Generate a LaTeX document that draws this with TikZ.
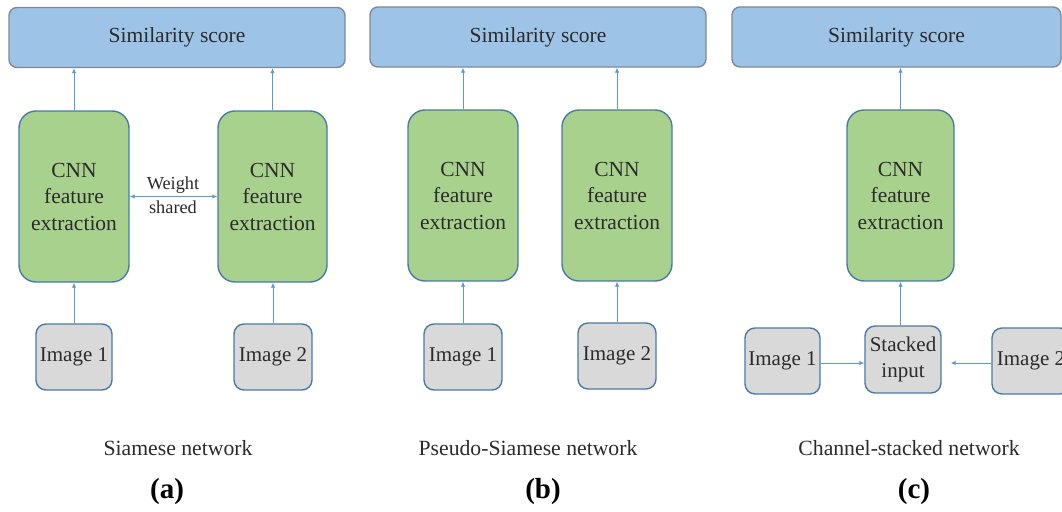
\documentclass[tikz,border=0pt]{standalone}
\usepackage{fontspec}
\setmainfont{Liberation Serif}
\usetikzlibrary{arrows.meta}
\definecolor{scorefill}{HTML}{9DC3E6}
\definecolor{scoreline}{HTML}{808A96}
\definecolor{cnnfill}{HTML}{A9D18E}
\definecolor{boxline}{HTML}{4A7AA8}
\definecolor{imgfill}{HTML}{D9D9D9}
\definecolor{flow}{HTML}{5B9BD5}
\definecolor{ink}{HTML}{2B2B2B}
\tikzset{
  x=1pt, y=-1pt,
  scorebox/.style={draw=scoreline, fill=scorefill, line width=1.4pt, rounded corners=8pt,
    minimum height=60pt, text=ink, font=\fontsize{21.5}{26}\selectfont},
  cnnbox/.style={draw=boxline, fill=cnnfill, line width=1.4pt, rounded corners=17pt,
    minimum width=110pt, minimum height=171pt, align=center, text=ink,
    font=\fontsize{21.5}{26.5}\selectfont},
  imgbox/.style={draw=boxline, fill=imgfill, line width=1.4pt, rounded corners=10pt,
    minimum width=77pt, minimum height=66pt, inner sep=1pt, align=center, text=ink,
    font=\fontsize{21}{25.5}\selectfont},
  flowarrow/.style={draw=flow, line width=0.9pt, -{Latex[length=5pt,width=4.5pt]}},
  caption/.style={text=ink, font=\fontsize{21.7}{26}\selectfont},
  tag/.style={text=black, font=\fontsize{29}{32}\selectfont\bfseries},
}
\begin{document}
\begin{tikzpicture}
\useasboundingbox (0,0) rectangle (1062,511);
\clip (0,0) rectangle (1062,511);
\fill[white] (0,0) rectangle (1062,511);

% (a) Siamese network
\node[scorebox, minimum width=336pt] (simA) at (177,37.5) {Similarity score};
\node[cnnbox] (cnnA1) at (74,196.5) {CNN\\feature\\extraction};
\node[cnnbox, minimum width=109pt] (cnnA2) at (272.5,196.5) {CNN\\feature\\extraction};
\node[imgbox, minimum width=76pt] (imgA1) at (74,357) {Image 1};
\node[imgbox, minimum width=78pt] (imgA2) at (273,357) {Image 2};
\draw[flowarrow] (cnnA1.north) -- (cnnA1.north |- simA.south);
\draw[flowarrow] (cnnA2.north) -- (cnnA2.north |- simA.south);
\draw[flowarrow] (imgA1.north) -- (imgA1.north |- cnnA1.south);
\draw[flowarrow] (imgA2.north) -- (imgA2.north |- cnnA2.south);
\draw[flowarrow, {Latex[length=5pt,width=4.5pt]}-{Latex[length=5pt,width=4.5pt]}] (cnnA1.east) -- (cnnA2.west);
\node[text=ink, align=center, font=\fontsize{18.3}{24}\selectfont] (wsA) at (173,195) {Weight\\shared};
\node[caption] (capA) at (178,448) {Siamese network};
\node[tag] (tagA) at (167,492) {(a)};

% (b) Pseudo-Siamese network
\node[scorebox, minimum width=336pt] (simB) at (538,37) {Similarity score};
\node[cnnbox] (cnnB1) at (463,195.5) {CNN\\feature\\extraction};
\node[cnnbox] (cnnB2) at (617,195.5) {CNN\\feature\\extraction};
\node[imgbox, minimum width=78pt] (imgB1) at (463,357) {Image 1};
\node[imgbox, minimum width=78pt] (imgB2) at (617,356) {Image 2};
\draw[flowarrow] (cnnB1.north) -- (cnnB1.north |- simB.south);
\draw[flowarrow] (cnnB2.north) -- (cnnB2.north |- simB.south);
\draw[flowarrow] (imgB1.north) -- (imgB1.north |- cnnB1.south);
\draw[flowarrow] (imgB2.north) -- (imgB2.north |- cnnB2.south);
\node[caption] (capB) at (528,448) {Pseudo-Siamese network};
\node[tag] (tagB) at (543,492) {(b)};

% (c) Channel-stacked network
\node[scorebox, minimum width=329pt] (simC) at (896.5,37) {Similarity score};
\node[cnnbox, minimum width=107pt] (cnnC) at (900.5,195.5) {CNN\\feature\\extraction};
\node[imgbox, minimum width=75pt] (imgC1) at (782.5,361) {Image 1};
\node[imgbox, minimum width=76pt, minimum height=67pt] (stackC) at (903,359.5) {Stacked\\input};
\node[imgbox, minimum width=78pt] (imgC2) at (1031,361) {Image 2};
\draw[flowarrow] (cnnC.north) -- (cnnC.north |- simC.south);
\draw[flowarrow] (cnnC.south |- stackC.north) -- (cnnC.south);
\draw[flowarrow] (imgC1.east |- 0,363) -- (stackC.west |- 0,363);
\draw[flowarrow, shorten >=9pt] (imgC2.west |- 0,363) -- (stackC.east |- 0,363);
\node[caption] (capC) at (909,448) {Channel-stacked network};
\node[tag] (tagC) at (914,492) {(c)};
\end{tikzpicture}
\end{document}
